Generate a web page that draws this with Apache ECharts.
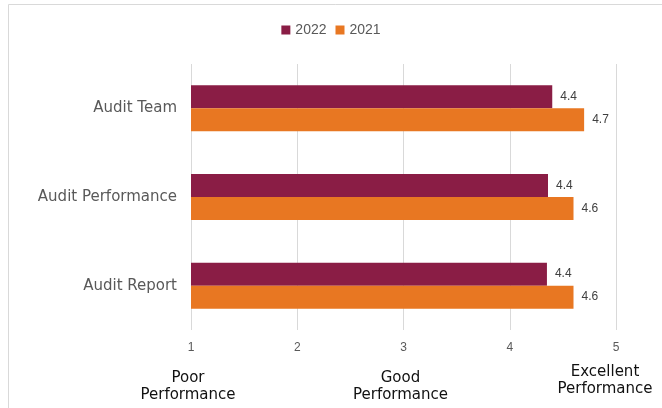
<!DOCTYPE html>
<html>
<head>
<meta charset="utf-8">
<script src="https://cdn.jsdelivr.net/npm/echarts@6/dist/echarts.min.js"></script>
<style>
	html, body { margin: 0; padding: 0; background: #fff; }
	#main { width: 662px; height: 408px; }
</style>
</head>
<body>
<div id="main"></div>
<script>
	// data
	var categories = ['Audit Team', 'Audit Performance', 'Audit Report'];
	var seriesNames = ['2022', '2021'];
	var values2022 = [4.40, 4.36, 4.35];
	var values2021 = [4.70, 4.60, 4.60];
	var scaleLabels = { 1: 'Poor\nPerformance', 3: 'Good\nPerformance' };
	var topLabels = { 5: 'Excellent\nPerformance' };

	var colors = ['#8a1d45', '#e87722'];
	var chart = echarts.init(document.getElementById('main'));

	var dataLabel = {
		show: true,
		position: 'right',
		distance: 8,
		color: '#404040',
		fontSize: 12,
		fontFamily: 'Liberation Sans',
		formatter: function (p) { return (Math.round(p.value * 10 + 1e-6) / 10).toFixed(1); }
	};

	var option = {
		backgroundColor: '#fff',
		color: colors,
		graphic: [{
			type: 'rect',
			shape: { x: 8.5, y: 4.5, width: 700, height: 500 },
			style: { fill: 'none', stroke: '#d9d9d9', lineWidth: 1 },
			silent: true
		}],
		legend: {
			data: seriesNames,
			left: 'center',
			top: 18,
			itemWidth: 9,
			itemHeight: 9,
			itemGap: 9,
			icon: 'rect',
			textStyle: { color: '#595959', fontSize: 14, fontFamily: 'Liberation Sans' }
		},
		grid: { left: 191, right: 46, top: 64, bottom: 78, containLabel: false, outerBoundsMode: 'none' },
		xAxis: [
			{
				type: 'value',
				min: 1,
				max: 5,
				interval: 1,
				axisLine: { show: false },
				axisTick: { show: false },
				splitLine: { lineStyle: { color: '#d9d9d9', width: 1 } },
				axisLabel: { color: '#595959', fontSize: 12, fontFamily: 'Liberation Sans', margin: 12 }
			},
			{
				type: 'value',
				position: 'bottom',
				offset: 32,
				min: 1,
				max: 5,
				interval: 1,
				axisLine: { show: false },
				axisTick: { show: false },
				splitLine: { show: false },
				axisLabel: {
					color: '#111',
					fontSize: 15,
					lineHeight: 17,
					fontFamily: 'DejaVu Sans',
					padding: [0, 6, 0, 0],
					formatter: function (v) { return scaleLabels[v] || ''; }
				}
			},
			{
				type: 'value',
				position: 'bottom',
				offset: 26,
				min: 1,
				max: 5,
				interval: 1,
				axisLine: { show: false },
				axisTick: { show: false },
				splitLine: { show: false },
				axisLabel: {
					color: '#111',
					fontSize: 15,
					lineHeight: 17,
					fontFamily: 'DejaVu Sans',
					padding: [0, 22, 0, 0],
					formatter: function (v) { return topLabels[v] || ''; }
				}
			}
		],
		yAxis: {
			type: 'category',
			data: categories,
			inverse: true,
			axisLine: { show: false },
			axisTick: { show: false },
			axisLabel: { color: '#595959', fontSize: 15, fontFamily: 'DejaVu Sans', margin: 14 }
		},
		series: [
			{
				name: seriesNames[0],
				type: 'bar',
				data: values2022,
				barWidth: 23,
				barGap: '0%',
				label: dataLabel
			},
			{
				name: seriesNames[1],
				type: 'bar',
				data: values2021,
				barWidth: 23,
				barGap: '0%',
				label: dataLabel
			}
		]
	};

	chart.setOption(option);
</script>
</body>
</html>
